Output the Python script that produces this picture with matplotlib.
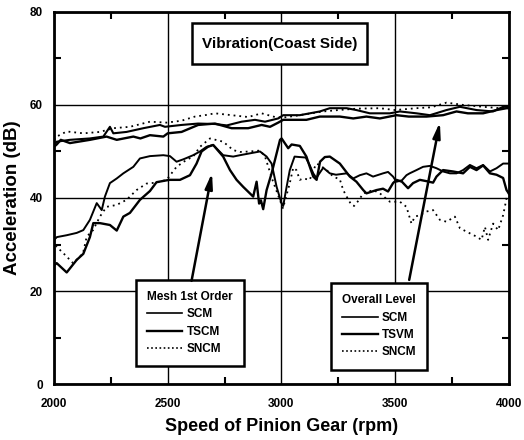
import matplotlib
matplotlib.use("Agg")
import matplotlib.pyplot as plt
from matplotlib.lines import Line2D
from matplotlib.patches import Rectangle
from matplotlib.ticker import MultipleLocator

plt.rcParams['font.family'] = ['Liberation Sans', 'DejaVu Sans']
plt.rcParams['font.weight'] = 'bold'

# ---------------- data ----------------
# Mesh 1st order
mesh_scm_rpm = [2000, 2013, 2056, 2100, 2129, 2158, 2188, 2210, 2224, 2246, 2276, 2305, 2349, 2378, 2422,
                2481, 2510, 2539, 2568, 2583, 2612, 2642, 2671, 2700, 2744, 2788, 2818, 2862, 2906, 2935,
                2957, 2979, 3001, 3008, 3023, 3037, 3058, 3080, 3107, 3125, 3140, 3154, 3170, 3184, 3213,
                3240, 3287, 3316, 3345, 3374, 3403, 3447, 3469, 3491, 3506, 3530, 3550, 3564, 3594, 3623,
                3653, 3682, 3711, 3741, 3770, 3799, 3829, 3858, 3887, 3917, 3946, 3975, 4000]
mesh_scm_db = [31, 31.6, 32, 32.5, 33.1, 35.3, 38.9, 37.4, 40.3, 43.2, 44.2, 45.3, 46.7, 48.5, 49,
               49.2, 49, 47.8, 48.3, 48.6, 49.2, 50, 51, 51.4, 49.2, 48.9, 49.2, 49.6, 50, 48.9,
               47.4, 42.4, 38.8, 38.3, 42.4, 46, 48.9, 48.8, 48.7, 47, 45.3, 44.3, 45.5, 46.5, 45.3,
               45, 45.3, 44.2, 44.9, 45.3, 44.6, 45.3, 45.6, 44.6, 43.5, 43.8, 44.9, 45.3, 46, 46.7,
               46.9, 46.4, 45.7, 45.3, 45.3, 46, 47.1, 46.4, 47.1, 45.7, 46.4, 47.4, 47.4]

mesh_tscm_rpm = [2000, 2012, 2056, 2100, 2129, 2158, 2173, 2202, 2246, 2276, 2305, 2334, 2378, 2422, 2451,
                 2507, 2554, 2598, 2627, 2649, 2677, 2700, 2744, 2774, 2803, 2832, 2876, 2891, 2902, 2910,
                 2920, 2935, 2957, 2994, 3001, 3030, 3045, 3081, 3110, 3125, 3140, 3155, 3170, 3191, 3213,
                 3257, 3301, 3330, 3360, 3374, 3418, 3447, 3469, 3491, 3506, 3530, 3557, 3579, 3609, 3640,
                 3667, 3682, 3711, 3755, 3799, 3829, 3858, 3887, 3917, 3946, 3975, 3990, 4000]
mesh_tscm_db = [25.5, 26, 24, 26.7, 28, 31.6, 34.6, 34.6, 34.2, 33, 36, 36.8, 39.6, 41.5, 43.4,
                43.9, 43.9, 44.9, 47.4, 50, 51, 51.4, 48.9, 46, 43.9, 42.4, 40.3, 43.5, 38.8, 39.5,
                37.6, 41.7, 45.3, 52.5, 52.8, 50.7, 51.5, 51.2, 48.9, 46.7, 44.6, 43.9, 47.8, 48.8, 48.9,
                47.4, 44.6, 43.5, 41.7, 41, 41.7, 42, 41.4, 43.2, 43.9, 43.5, 42.1, 43.2, 43.9, 43.6,
                43.3, 44.6, 46, 45.7, 45.3, 46.7, 46, 47, 45.3, 45, 44.3, 41.7, 41]

mesh_sncm_rpm = [2000, 2012, 2040, 2084, 2114, 2128, 2144, 2172, 2202, 2231, 2275, 2319, 2363, 2407, 2450,
                 2495, 2539, 2583, 2612, 2642, 2686, 2744, 2788, 2818, 2862, 2906, 2928, 2960, 2990, 3007,
                 3037, 3052, 3066, 3081, 3096, 3125, 3140, 3155, 3170, 3199, 3228, 3257, 3272, 3287, 3308,
                 3320, 3340, 3360, 3404, 3433, 3477, 3521, 3550, 3572, 3587, 3608, 3638, 3667, 3697, 3726,
                 3763, 3785, 3829, 3858, 3880, 3895, 3909, 3931, 3953, 3975, 3990, 4000]
mesh_sncm_db = [31, 29.5, 28.2, 26, 27.4, 28.2, 31.7, 33.1, 36, 38.1, 38.5, 39.6, 41.7, 43.1, 43.3,
                43.9, 46.7, 48.2, 48.9, 51, 52.8, 52.1, 50.3, 49.9, 50, 50.2, 48.9, 44, 40, 37.8,
                43.2, 46.5, 46, 43.9, 44.2, 43.9, 46, 47.4, 47, 46, 44.6, 44, 41.7, 40.3, 38.5,
                38.3, 39.5, 41, 41.7, 41, 39.2, 39.2, 38.1, 34.5, 36, 36.3, 37.1, 37.4, 35.3, 34.9,
                36, 33.5, 32.4, 31.7, 31, 33.8, 31, 34.5, 33.1, 36.3, 39.9, 41]

# Overall level
ovr_scm_rpm = [2000, 2012, 2070, 2158, 2217, 2246, 2261, 2319, 2393, 2466, 2488, 2561, 2634, 2708, 2760,
               2825, 2884, 2928, 2986, 3008, 3081, 3169, 3213, 3287, 3330, 3389, 3477, 3521, 3594, 3653,
               3726, 3785, 3858, 3931, 3975, 4000]
ovr_scm_db = [51.5, 52.1, 52.5, 52.8, 53.2, 55.3, 53.9, 54.2, 55, 55.7, 55.3, 55.7, 56, 55.9, 55.6,
              56.4, 56.8, 56.4, 57.1, 57.8, 57.8, 58.6, 59.3, 59.3, 58.9, 58.2, 58.2, 58.6, 58.2, 57.8,
              58.9, 59.6, 58.9, 58.6, 59.6, 59.6]

ovr_tsvm_rpm = [2000, 2012, 2030, 2070, 2158, 2231, 2276, 2349, 2380, 2422, 2481, 2500, 2561, 2634, 2708,
                2781, 2854, 2913, 2950, 2986, 3008, 3052, 3110, 3169, 3257, 3316, 3374, 3433, 3506, 3560,
                3638, 3711, 3770, 3820, 3887, 3946, 3990, 4000]
ovr_tsvm_db = [51, 51.5, 52.5, 51.8, 52.5, 53.2, 52.5, 53.2, 52.8, 53.5, 53.2, 53.9, 54.2, 55.7, 56,
               55, 55, 55.7, 55.3, 56.2, 56.8, 56.8, 56.8, 57.5, 57.5, 57.1, 57.5, 57.1, 57.8, 57.5,
               57.5, 57.8, 58.6, 58.2, 58.2, 58.9, 59.3, 59.3]

ovr_sncm_rpm = [2000, 2012, 2056, 2129, 2202, 2261, 2334, 2422, 2495, 2560, 2620, 2664, 2708, 2781, 2854,
                2913, 2972, 3010, 3080, 3184, 3250, 3330, 3433, 3500, 3594, 3660, 3726, 3800, 3887, 3960,
                4000]
ovr_sncm_db = [52.5, 53.2, 54.3, 53.9, 54.2, 55, 55.3, 56.4, 56.2, 56.6, 57.5, 57.8, 58.2, 57.8, 57.4,
               58.2, 57.4, 57.3, 57.8, 58.6, 58.9, 59.2, 59.3, 58.9, 59.3, 59.5, 60.5, 60, 59.6, 59.3,
               59.6]

x_ticks = [2000, 2500, 3000, 3500, 4000]
y_ticks = [0, 20, 40, 60, 80]
title_text = "Vibration(Coast Side)"
mesh_title = "Mesh 1st Order"
mesh_labels = ["SCM", "TSCM", "SNCM"]
ovr_title = "Overall Level"
ovr_labels = ["SCM", "TSVM", "SNCM"]

# ---------------- figure ----------------
fig = plt.figure(figsize=(5.24, 4.40), dpi=100)
ax = fig.add_axes([0.103, 0.127, 0.868, 0.846])

dot = (0, (1, 2.2))
ax.plot(mesh_scm_rpm, mesh_scm_db, color='black', lw=1.4)
ax.plot(mesh_tscm_rpm, mesh_tscm_db, color='black', lw=1.7)
ax.plot(mesh_sncm_rpm, mesh_sncm_db, color='black', lw=1.3, ls=dot)
ax.plot(ovr_scm_rpm, ovr_scm_db, color='black', lw=1.5)
ax.plot(ovr_tsvm_rpm, ovr_tsvm_db, color='black', lw=1.7)
ax.plot(ovr_sncm_rpm, ovr_sncm_db, color='black', lw=1.3, ls=dot)

ax.set_xlim(2000, 4000)
ax.set_ylim(0, 80)
ax.set_xticks(x_ticks)
ax.set_yticks(y_ticks)
ax.xaxis.set_minor_locator(MultipleLocator(250))
ax.yaxis.set_minor_locator(MultipleLocator(10))
ax.tick_params(which='both', direction='in', top=True, right=True, width=1.5, labelsize=8.5)
ax.tick_params(axis='x', which='both', pad=10)
ax.tick_params(axis='y', which='both', pad=8)
ax.tick_params(which='major', length=0)
ax.tick_params(which='minor', length=5)
for lab in ax.get_xticklabels() + ax.get_yticklabels():
    lab.set_fontweight('bold')
ax.grid(True, which='major', color='black', lw=1.0)
for s in ax.spines.values():
    s.set_linewidth(2.0)

ax.set_xlabel("Speed of Pinion Gear (rpm)", fontsize=13, fontweight='bold', labelpad=6)
ax.set_ylabel("Acceleration (dB)", fontsize=13.5, fontweight='bold', labelpad=6)

# title box
ax.add_patch(Rectangle((2607, 68.8), 769, 8.8, fc='white', ec='black', lw=1.8, zorder=6))
ax.text(2991, 73.2, title_text, ha='center', va='center', fontsize=11, fontweight='bold',
        zorder=7)

# legends
def make_handles():
    return [Line2D([], [], color='black', lw=1.2),
            Line2D([], [], color='black', lw=1.7),
            Line2D([], [], color='black', lw=1.2, ls=(0, (1, 1.5)))]

leg_kw = dict(loc='upper left', frameon=True, fancybox=False, framealpha=1,
              edgecolor='black', handlelength=3.0, handletextpad=0.35, labelspacing=0.45,
              borderpad=0.95, borderaxespad=0, alignment='left',
              prop={'size': 8.5, 'weight': 'bold'},
              title_fontproperties={'size': 8.5, 'weight': 'bold'})

leg1 = ax.legend(make_handles(), mesh_labels, title=mesh_title,
                 bbox_to_anchor=(2360, 22.4), bbox_transform=ax.transData, **leg_kw)
leg1.get_frame().set_linewidth(1.8)
leg1.set_zorder(7)
ax.add_artist(leg1)
leg2 = ax.legend(make_handles(), ovr_labels, title=ovr_title,
                 bbox_to_anchor=(3218, 21.7), bbox_transform=ax.transData, **leg_kw)
leg2.get_frame().set_linewidth(1.8)
leg2.set_zorder(7)

# arrows
arrow_kw = dict(arrowstyle='-|>,head_length=0.9,head_width=0.22', lw=1.8, color='black',
                shrinkA=0, shrinkB=0)
ax.annotate('', xy=(2695, 45.4), xytext=(2605, 22.2), arrowprops=arrow_kw, zorder=8)
ax.annotate('', xy=(3697, 56.3), xytext=(3562, 22.4), arrowprops=arrow_kw, zorder=8)

fig.savefig("out.png", dpi=100)
